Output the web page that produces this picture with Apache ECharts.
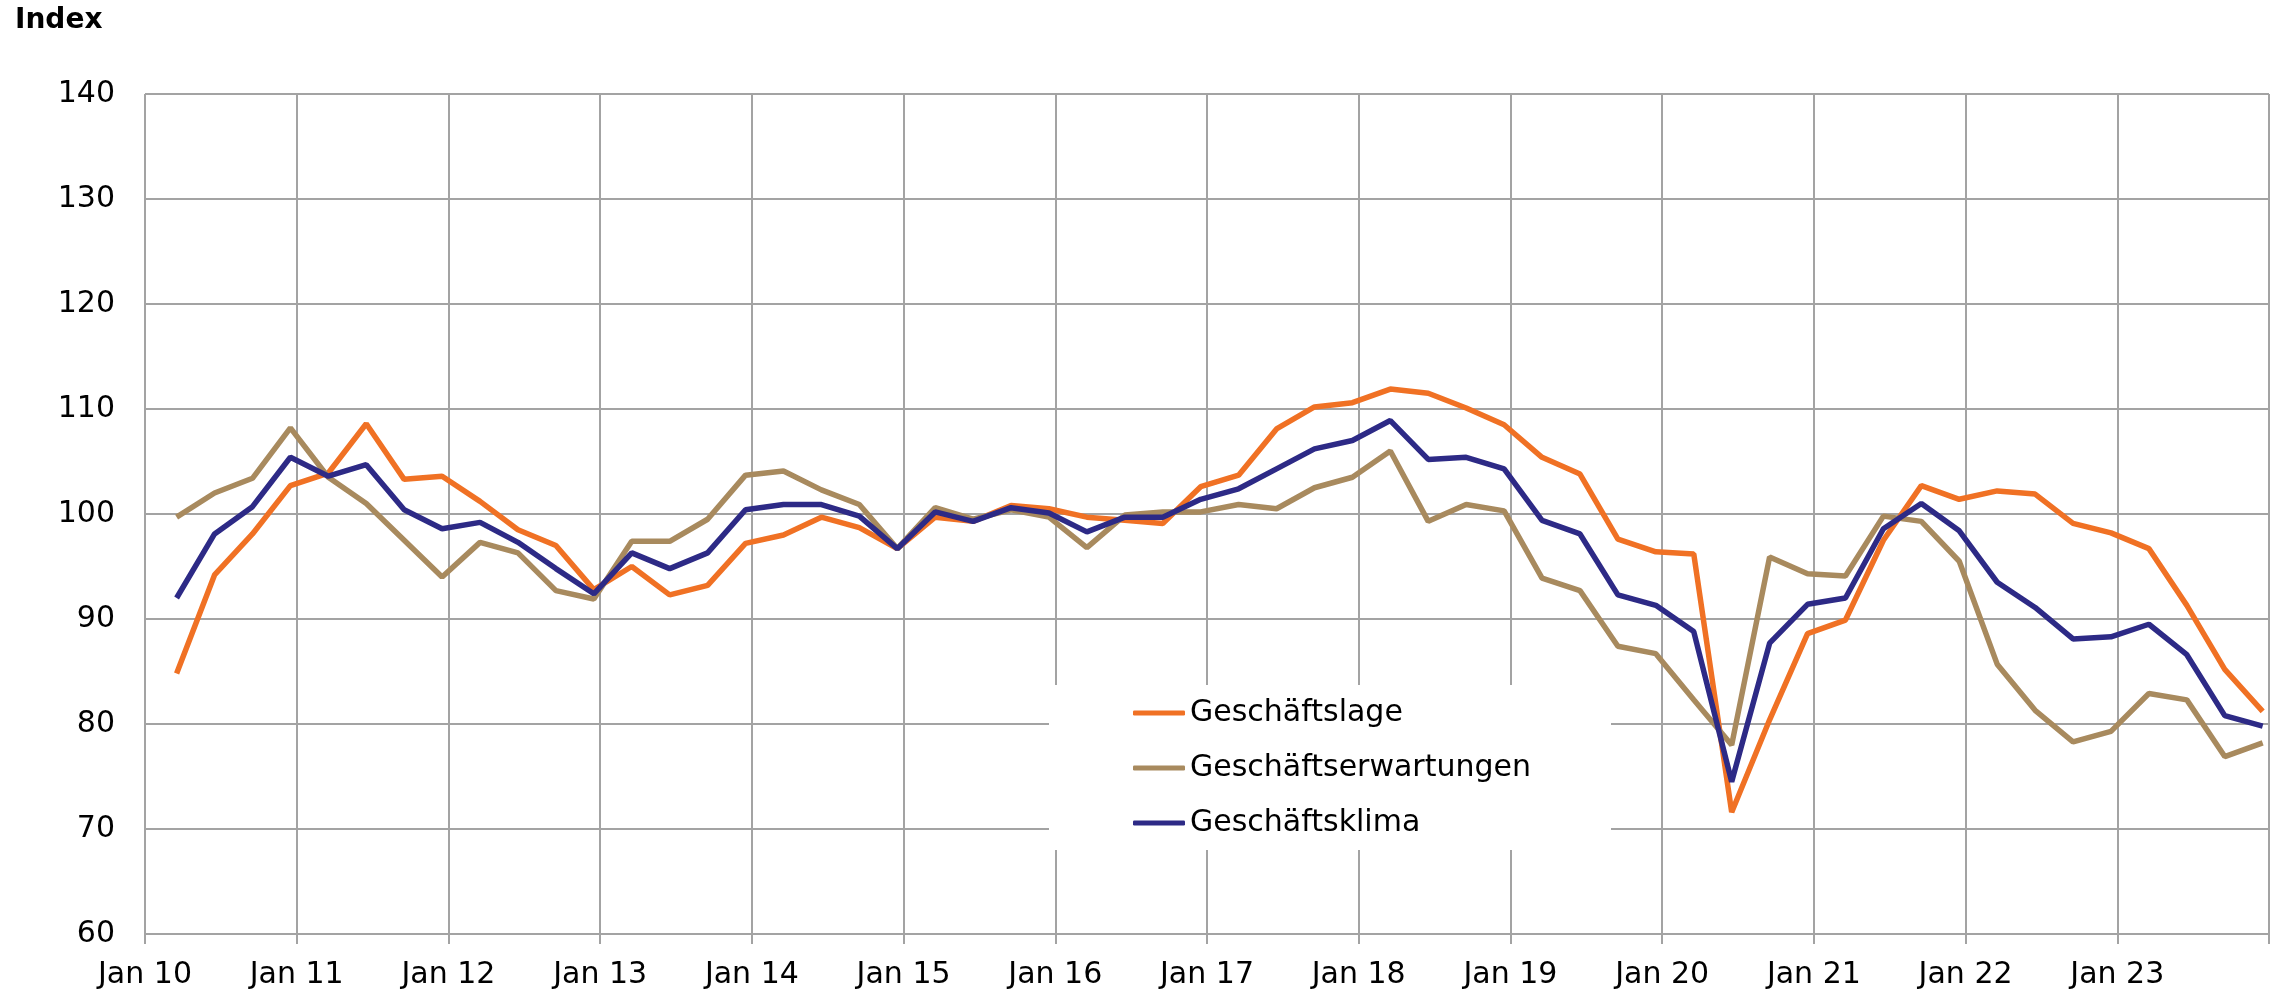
<!DOCTYPE html>
<html>
<head>
<meta charset="utf-8">
<script src="https://cdn.jsdelivr.net/npm/echarts@6/dist/echarts.min.js"></script>
<style>
html,body{margin:0;padding:0;background:#fff;}
#c{width:2282px;height:992px;}
</style>
</head>
<body>
<div id="c"></div>
<script>
// Quarterly values, Q1 2010 .. Q4 2023
const geschaeftslage = [84.8, 94.2, 98.1, 102.7, 103.9, 108.6, 103.3, 103.6, 101.2, 98.5,
  97.0, 92.8, 95.0, 92.3, 93.2, 97.2, 98.0, 99.7, 98.7, 96.7,
  99.7, 99.3, 100.8, 100.5, 99.7, 99.4, 99.1, 102.6, 103.7, 108.1,
  110.2, 110.6, 111.9, 111.5, 110.1, 108.5, 105.4, 103.8, 97.6, 96.4,
  96.2, 71.6, 80.4, 88.6, 89.9, 97.5, 102.7, 101.4, 102.2, 101.9,
  99.1, 98.2, 96.7, 91.3, 85.2, 81.2];
const geschaeftserwartungen = [99.7, 102.0, 103.4, 108.2, 103.5, 101.0, 97.5, 94.0, 97.3, 96.3,
  92.7, 91.9, 97.4, 97.4, 99.5, 103.7, 104.1, 102.3, 100.9, 96.7,
  100.6, 99.5, 100.4, 99.7, 96.8, 99.9, 100.2, 100.2, 100.9, 100.5,
  102.5, 103.5, 106.0, 99.3, 100.9, 100.3, 93.9, 92.7, 87.4, 86.7,
  82.3, 78.0, 95.9, 94.3, 94.1, 99.8, 99.3, 95.5, 85.7, 81.3,
  78.3, 79.3, 82.9, 82.3, 76.9, 78.2];
const geschaeftsklima = [92.0, 98.1, 100.7, 105.4, 103.6, 104.7, 100.4, 98.6, 99.2, 97.3,
  94.8, 92.4, 96.3, 94.8, 96.3, 100.4, 100.9, 100.9, 99.8, 96.7,
  100.2, 99.3, 100.6, 100.1, 98.3, 99.7, 99.7, 101.4, 102.4, 104.3,
  106.2, 107.0, 108.9, 105.2, 105.4, 104.3, 99.4, 98.1, 92.3, 91.3,
  88.8, 74.5, 87.7, 91.4, 92.0, 98.6, 101.0, 98.4, 93.5, 91.1,
  88.1, 88.3, 89.5, 86.6, 80.8, 79.8];
const seriesNames = ['Geschäftslage', 'Geschäftserwartungen', 'Geschäftsklima'];
const yearLabels = ['Jan 10','Jan 11','Jan 12','Jan 13','Jan 14','Jan 15','Jan 16','Jan 17','Jan 18','Jan 19','Jan 20','Jan 21','Jan 22','Jan 23'];

// month offset (from Jan 2010) at which each quarterly value is plotted
function toPoints(arr){ return arr.map((v,i)=>[3*i+2.5, v]); }

const FONT = 'DejaVu Sans';
const GRID = '#a3a3a3';
const LW = 5.5;
const chart = echarts.init(document.getElementById('c'), null, {renderer:'canvas'});
chart.setOption({
  animation:false,
  backgroundColor:'#fff',
  grid:{left:145, right:13, top:94, bottom:58, containLabel:false},
  graphic:[
    {type:'text', left:15, top:7, z:10, style:{text:'Index', font:'bold 28px "DejaVu Sans"', fill:'#000'}},
    {type:'rect', z:1, shape:{x:1049, y:685, width:562, height:165}, style:{fill:'#fff'}}
  ],
  legend:{
    orient:'vertical', left:1133, top:698, padding:0,
    icon:'roundRect', itemWidth:52, itemHeight:5, itemGap:25,
    textStyle:{fontFamily:FONT, fontSize:30, color:'#000', lineHeight:30},
    data:seriesNames
  },
  xAxis:{
    type:'value', min:0, max:168, interval:12,
    axisLine:{show:false},
    axisTick:{show:true, length:10, lineStyle:{color:GRID, width:2}},
    splitLine:{show:true, lineStyle:{color:GRID, width:2}},
    axisLabel:{fontFamily:FONT, fontSize:30, color:'#000', margin:26,
      formatter:v=>{const k=Math.round(v/12); return yearLabels[k]||'';}}
  },
  yAxis:{
    type:'value', min:60, max:140, interval:10,
    axisLine:{show:false}, axisTick:{show:false},
    splitLine:{show:true, lineStyle:{color:GRID, width:2}},
    axisLabel:{fontFamily:FONT, fontSize:30, color:'#000', margin:30}
  },
  series:[
    {name:seriesNames[0], type:'line', data:toPoints(geschaeftslage), showSymbol:false, symbol:'none', z:3,
      lineStyle:{color:'#f07124', width:LW}, itemStyle:{color:'#f07124'}},
    {name:seriesNames[1], type:'line', data:toPoints(geschaeftserwartungen), showSymbol:false, symbol:'none', z:3,
      lineStyle:{color:'#a88a5e', width:LW}, itemStyle:{color:'#a88a5e'}},
    {name:seriesNames[2], type:'line', data:toPoints(geschaeftsklima), showSymbol:false, symbol:'none', z:3,
      lineStyle:{color:'#2d2a86', width:LW}, itemStyle:{color:'#2d2a86'}}
  ]
});
</script>
</body>
</html>
